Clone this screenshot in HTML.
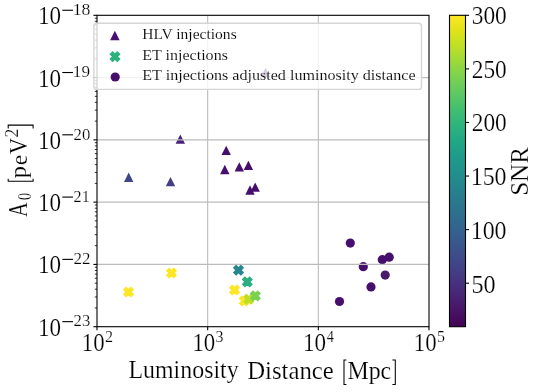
<!DOCTYPE html><html><head><meta charset="utf-8"><style>html,body{margin:0;padding:0;background:#fff;width:540px;height:392px;overflow:hidden}svg{display:block;will-change:transform}text{font-family:"Liberation Serif",serif;fill:#000;stroke:#fff;stroke-width:0.2px}#leg0,#leg1,#leg2{stroke-width:0.12px}</style></head><body><svg width="540" height="392" viewBox="0 0 540 392"><defs><linearGradient id="vir" x1="0" y1="1" x2="0" y2="0"><stop offset="0.000" stop-color="#440154"/><stop offset="0.050" stop-color="#471365"/><stop offset="0.100" stop-color="#482475"/><stop offset="0.150" stop-color="#463480"/><stop offset="0.200" stop-color="#414487"/><stop offset="0.250" stop-color="#3b528b"/><stop offset="0.300" stop-color="#355f8d"/><stop offset="0.350" stop-color="#2f6c8e"/><stop offset="0.400" stop-color="#2a788e"/><stop offset="0.450" stop-color="#25848e"/><stop offset="0.500" stop-color="#21918c"/><stop offset="0.550" stop-color="#1e9c89"/><stop offset="0.600" stop-color="#22a884"/><stop offset="0.650" stop-color="#2fb47c"/><stop offset="0.700" stop-color="#44bf70"/><stop offset="0.750" stop-color="#5ec962"/><stop offset="0.800" stop-color="#7ad151"/><stop offset="0.850" stop-color="#9bd93c"/><stop offset="0.900" stop-color="#bddf26"/><stop offset="0.950" stop-color="#dfe318"/><stop offset="1.000" stop-color="#fde725"/></linearGradient></defs><path d="M128.70,172.60L133.40,181.90L124.00,181.90Z" fill="#3f4788"/><path d="M170.50,176.95L175.20,186.25L165.80,186.25Z" fill="#433e85"/><path d="M180.30,134.55L185.00,143.85L175.60,143.85Z" fill="#48227a"/><path d="M226.20,145.75L230.90,155.05L221.50,155.05Z" fill="#470f6d"/><path d="M224.80,164.85L229.50,174.15L220.10,174.15Z" fill="#470f6d"/><path d="M239.30,162.15L244.00,171.45L234.60,171.45Z" fill="#470f6d"/><path d="M248.40,160.75L253.10,170.05L243.70,170.05Z" fill="#470f6d"/><path d="M250.00,185.35L254.70,194.65L245.30,194.65Z" fill="#470f6d"/><path d="M255.20,182.55L259.90,191.85L250.50,191.85Z" fill="#470f6d"/><path d="M265.50,67.75L270.20,77.05L260.80,77.05Z" fill="#470f6d"/><path d="M130.85,287.30L133.20,289.65L130.85,292.00L133.20,294.35L130.85,296.70L128.50,294.35L126.15,296.70L123.80,294.35L126.15,292.00L123.80,289.65L126.15,287.30L128.50,289.65Z" fill="#fde725" stroke="#fde725" stroke-width="1.3" stroke-linejoin="miter"/><path d="M173.85,268.30L176.20,270.65L173.85,273.00L176.20,275.35L173.85,277.70L171.50,275.35L169.15,277.70L166.80,275.35L169.15,273.00L166.80,270.65L169.15,268.30L171.50,270.65Z" fill="#fde725" stroke="#fde725" stroke-width="1.3" stroke-linejoin="miter"/><path d="M240.85,265.50L243.20,267.85L240.85,270.20L243.20,272.55L240.85,274.90L238.50,272.55L236.15,274.90L233.80,272.55L236.15,270.20L233.80,267.85L236.15,265.50L238.50,267.85Z" fill="#25878e" stroke="#25878e" stroke-width="1.3" stroke-linejoin="miter"/><path d="M249.65,277.20L252.00,279.55L249.65,281.90L252.00,284.25L249.65,286.60L247.30,284.25L244.95,286.60L242.60,284.25L244.95,281.90L242.60,279.55L244.95,277.20L247.30,279.55Z" fill="#2bae80" stroke="#2bae80" stroke-width="1.3" stroke-linejoin="miter"/><path d="M236.85,285.30L239.20,287.65L236.85,290.00L239.20,292.35L236.85,294.70L234.50,292.35L232.15,294.70L229.80,292.35L232.15,290.00L229.80,287.65L232.15,285.30L234.50,287.65Z" fill="#fde725" stroke="#fde725" stroke-width="1.3" stroke-linejoin="miter"/><path d="M246.55,296.20L248.90,298.55L246.55,300.90L248.90,303.25L246.55,305.60L244.20,303.25L241.85,305.60L239.50,303.25L241.85,300.90L239.50,298.55L241.85,296.20L244.20,298.55Z" fill="#fde725" stroke="#fde725" stroke-width="1.3" stroke-linejoin="miter"/><path d="M251.05,294.50L253.40,296.85L251.05,299.20L253.40,301.55L251.05,303.90L248.70,301.55L246.35,303.90L244.00,301.55L246.35,299.20L244.00,296.85L246.35,294.50L248.70,296.85Z" fill="#bddf26" stroke="#bddf26" stroke-width="1.3" stroke-linejoin="miter"/><path d="M257.75,291.20L260.10,293.55L257.75,295.90L260.10,298.25L257.75,300.60L255.40,298.25L253.05,300.60L250.70,298.25L253.05,295.90L250.70,293.55L253.05,291.20L255.40,293.55Z" fill="#7ad151" stroke="#7ad151" stroke-width="1.3" stroke-linejoin="miter"/><circle cx="350.30" cy="243.10" r="4.6" fill="#470f6d"/><circle cx="363.30" cy="266.70" r="4.6" fill="#470f6d"/><circle cx="389.20" cy="257.20" r="4.6" fill="#470f6d"/><circle cx="382.30" cy="259.70" r="4.6" fill="#470f6d"/><circle cx="385.20" cy="275.10" r="4.6" fill="#481b6d"/><circle cx="371.00" cy="286.90" r="4.6" fill="#470f6d"/><circle cx="339.50" cy="301.50" r="4.6" fill="#470f6d"/><line x1="207.67" y1="15.3" x2="207.67" y2="326.7" stroke="#bcbcbc" stroke-width="1.1"/><line x1="318.33" y1="15.3" x2="318.33" y2="326.7" stroke="#bcbcbc" stroke-width="1.1"/><line x1="97.0" y1="77.58" x2="429.0" y2="77.58" stroke="#bcbcbc" stroke-width="1.1"/><line x1="97.0" y1="139.86" x2="429.0" y2="139.86" stroke="#bcbcbc" stroke-width="1.1"/><line x1="97.0" y1="202.14" x2="429.0" y2="202.14" stroke="#bcbcbc" stroke-width="1.1"/><line x1="97.0" y1="264.42" x2="429.0" y2="264.42" stroke="#bcbcbc" stroke-width="1.1"/><rect x="97.0" y="15.3" width="332.0" height="311.4" fill="none" stroke="#000" stroke-width="1.1"/><line x1="97.00" y1="326.7" x2="97.00" y2="330.3" stroke="#000" stroke-width="1.1"/><line x1="207.67" y1="326.7" x2="207.67" y2="330.3" stroke="#000" stroke-width="1.1"/><line x1="318.33" y1="326.7" x2="318.33" y2="330.3" stroke="#000" stroke-width="1.1"/><line x1="429.00" y1="326.7" x2="429.00" y2="330.3" stroke="#000" stroke-width="1.1"/><line x1="93.4" y1="326.70" x2="97.0" y2="326.70" stroke="#000" stroke-width="1.1"/><line x1="94.8" y1="307.95" x2="97.0" y2="307.95" stroke="#000" stroke-width="0.8"/><line x1="94.8" y1="296.98" x2="97.0" y2="296.98" stroke="#000" stroke-width="0.8"/><line x1="94.8" y1="289.20" x2="97.0" y2="289.20" stroke="#000" stroke-width="0.8"/><line x1="94.8" y1="283.17" x2="97.0" y2="283.17" stroke="#000" stroke-width="0.8"/><line x1="94.8" y1="278.24" x2="97.0" y2="278.24" stroke="#000" stroke-width="0.8"/><line x1="94.8" y1="274.07" x2="97.0" y2="274.07" stroke="#000" stroke-width="0.8"/><line x1="94.8" y1="270.46" x2="97.0" y2="270.46" stroke="#000" stroke-width="0.8"/><line x1="94.8" y1="267.27" x2="97.0" y2="267.27" stroke="#000" stroke-width="0.8"/><line x1="93.4" y1="264.42" x2="97.0" y2="264.42" stroke="#000" stroke-width="1.1"/><line x1="94.8" y1="245.67" x2="97.0" y2="245.67" stroke="#000" stroke-width="0.8"/><line x1="94.8" y1="234.70" x2="97.0" y2="234.70" stroke="#000" stroke-width="0.8"/><line x1="94.8" y1="226.92" x2="97.0" y2="226.92" stroke="#000" stroke-width="0.8"/><line x1="94.8" y1="220.89" x2="97.0" y2="220.89" stroke="#000" stroke-width="0.8"/><line x1="94.8" y1="215.96" x2="97.0" y2="215.96" stroke="#000" stroke-width="0.8"/><line x1="94.8" y1="211.79" x2="97.0" y2="211.79" stroke="#000" stroke-width="0.8"/><line x1="94.8" y1="208.18" x2="97.0" y2="208.18" stroke="#000" stroke-width="0.8"/><line x1="94.8" y1="204.99" x2="97.0" y2="204.99" stroke="#000" stroke-width="0.8"/><line x1="93.4" y1="202.14" x2="97.0" y2="202.14" stroke="#000" stroke-width="1.1"/><line x1="94.8" y1="183.39" x2="97.0" y2="183.39" stroke="#000" stroke-width="0.8"/><line x1="94.8" y1="172.42" x2="97.0" y2="172.42" stroke="#000" stroke-width="0.8"/><line x1="94.8" y1="164.64" x2="97.0" y2="164.64" stroke="#000" stroke-width="0.8"/><line x1="94.8" y1="158.61" x2="97.0" y2="158.61" stroke="#000" stroke-width="0.8"/><line x1="94.8" y1="153.68" x2="97.0" y2="153.68" stroke="#000" stroke-width="0.8"/><line x1="94.8" y1="149.51" x2="97.0" y2="149.51" stroke="#000" stroke-width="0.8"/><line x1="94.8" y1="145.90" x2="97.0" y2="145.90" stroke="#000" stroke-width="0.8"/><line x1="94.8" y1="142.71" x2="97.0" y2="142.71" stroke="#000" stroke-width="0.8"/><line x1="93.4" y1="139.86" x2="97.0" y2="139.86" stroke="#000" stroke-width="1.1"/><line x1="94.8" y1="121.11" x2="97.0" y2="121.11" stroke="#000" stroke-width="0.8"/><line x1="94.8" y1="110.14" x2="97.0" y2="110.14" stroke="#000" stroke-width="0.8"/><line x1="94.8" y1="102.36" x2="97.0" y2="102.36" stroke="#000" stroke-width="0.8"/><line x1="94.8" y1="96.33" x2="97.0" y2="96.33" stroke="#000" stroke-width="0.8"/><line x1="94.8" y1="91.40" x2="97.0" y2="91.40" stroke="#000" stroke-width="0.8"/><line x1="94.8" y1="87.23" x2="97.0" y2="87.23" stroke="#000" stroke-width="0.8"/><line x1="94.8" y1="83.62" x2="97.0" y2="83.62" stroke="#000" stroke-width="0.8"/><line x1="94.8" y1="80.43" x2="97.0" y2="80.43" stroke="#000" stroke-width="0.8"/><line x1="93.4" y1="77.58" x2="97.0" y2="77.58" stroke="#000" stroke-width="1.1"/><line x1="94.8" y1="58.83" x2="97.0" y2="58.83" stroke="#000" stroke-width="0.8"/><line x1="94.8" y1="47.86" x2="97.0" y2="47.86" stroke="#000" stroke-width="0.8"/><line x1="94.8" y1="40.08" x2="97.0" y2="40.08" stroke="#000" stroke-width="0.8"/><line x1="94.8" y1="34.05" x2="97.0" y2="34.05" stroke="#000" stroke-width="0.8"/><line x1="94.8" y1="29.12" x2="97.0" y2="29.12" stroke="#000" stroke-width="0.8"/><line x1="94.8" y1="24.95" x2="97.0" y2="24.95" stroke="#000" stroke-width="0.8"/><line x1="94.8" y1="21.34" x2="97.0" y2="21.34" stroke="#000" stroke-width="0.8"/><line x1="94.8" y1="18.15" x2="97.0" y2="18.15" stroke="#000" stroke-width="0.8"/><line x1="93.4" y1="15.30" x2="97.0" y2="15.30" stroke="#000" stroke-width="1.1"/><rect x="93.9" y="23.2" width="327.6" height="66.2" rx="3" ry="3" fill="#fff" fill-opacity="0.8" stroke="#d5d5d5" stroke-width="1.4"/><path d="M114.90,30.85L119.65,40.15L110.15,40.15Z" fill="#470f6d"/><path d="M117.35,51.90L119.70,54.25L117.35,56.60L119.70,58.95L117.35,61.30L115.00,58.95L112.65,61.30L110.30,58.95L112.65,56.60L110.30,54.25L112.65,51.90L115.00,54.25Z" fill="#2db27d" stroke="#2db27d" stroke-width="1.3" stroke-linejoin="miter"/><circle cx="115.20" cy="77.00" r="4.6" fill="#470f6d"/><rect x="62.3" y="321.10" width="10.7" height="1.1" fill="#000"/><rect x="62.3" y="258.82" width="10.7" height="1.1" fill="#000"/><rect x="62.3" y="196.54" width="10.7" height="1.1" fill="#000"/><rect x="62.3" y="134.26" width="10.7" height="1.1" fill="#000"/><rect x="62.3" y="71.98" width="10.7" height="1.1" fill="#000"/><rect x="62.3" y="9.70" width="10.7" height="1.1" fill="#000"/><rect x="449.5" y="15.3" width="16.0" height="311.4" fill="url(#vir)" stroke="#000" stroke-width="1.1"/><line x1="465.5" y1="283.20" x2="469.1" y2="283.20" stroke="#000" stroke-width="1.1"/><line x1="465.5" y1="229.62" x2="469.1" y2="229.62" stroke="#000" stroke-width="1.1"/><line x1="465.5" y1="176.04" x2="469.1" y2="176.04" stroke="#000" stroke-width="1.1"/><line x1="465.5" y1="122.46" x2="469.1" y2="122.46" stroke="#000" stroke-width="1.1"/><line x1="465.5" y1="68.88" x2="469.1" y2="68.88" stroke="#000" stroke-width="1.1"/><line x1="465.5" y1="15.30" x2="469.1" y2="15.30" stroke="#000" stroke-width="1.1"/><path d="M346.4,359.9H344.0V384.4H346.4" stroke="#000" stroke-width="1.05" fill="none" stroke-linejoin="miter"/><path d="M392.4,359.9H395.3V384.4H392.4" stroke="#000" stroke-width="1.05" fill="none" stroke-linejoin="miter"/><path d="M8.2,178.7V181.3H33.1V178.7" stroke="#000" stroke-width="1.05" fill="none" stroke-linejoin="miter"/><path d="M8.2,128.6V125.1H33.1V128.6" stroke="#000" stroke-width="1.05" fill="none" stroke-linejoin="miter"/><text id="leg0" transform="matrix(1.07247,0.00000,0.00000,1.00000,142.197,38.600)" font-size="14.5">HLV injections</text><text id="leg1" transform="matrix(1.10670,0.00000,0.00000,1.00000,142.236,59.700)" font-size="14.5">ET injections</text><text id="leg2" transform="matrix(1.11065,0.00000,0.00000,1.00000,142.289,80.400)" font-size="14.5">ET injections adjusted luminosity distance</text><text id="y10_23" transform="matrix(0.94192,0.00000,0.00000,1.03002,37.949,335.621)" font-size="24.5">10</text><text id="ysup_23" transform="matrix(0.98234,0.00000,0.00000,0.99242,73.622,326.446)" font-size="17.0">23</text><text id="y10_22" transform="matrix(0.94192,0.00000,0.00000,1.03002,37.949,273.429)" font-size="24.5">10</text><text id="ysup_22" transform="matrix(0.99899,0.00000,0.00000,1.01447,73.596,264.490)" font-size="17.0">22</text><text id="y10_21" transform="matrix(0.94192,0.00000,0.00000,1.03002,37.949,211.232)" font-size="24.5">10</text><text id="ysup_21" transform="matrix(0.95050,0.00000,0.00000,1.01447,73.558,202.286)" font-size="17.0">21</text><text id="y10_20" transform="matrix(0.94192,0.00000,0.00000,1.03002,37.949,148.787)" font-size="24.5">10</text><text id="ysup_20" transform="matrix(0.98234,0.00000,0.00000,0.99242,73.622,139.597)" font-size="17.0">20</text><text id="y10_19" transform="matrix(0.94192,0.00000,0.00000,1.03002,37.949,86.588)" font-size="24.5">10</text><text id="ysup_19" transform="matrix(1.01105,0.00000,0.00000,0.99242,72.842,77.313)" font-size="17.0">19</text><text id="y10_18" transform="matrix(0.94192,0.00000,0.00000,1.03002,37.949,24.378)" font-size="24.5">10</text><text id="ysup_18" transform="matrix(1.04315,0.00000,0.00000,0.99242,72.754,15.145)" font-size="17.0">18</text><text id="x10_2" transform="matrix(0.93116,0.00000,0.00000,1.04739,81.732,351.184)" font-size="24.5">10</text><text id="xsup_2" transform="matrix(0.94896,0.00000,0.00000,1.01374,105.018,342.194)" font-size="17.0">2</text><text id="x10_3" transform="matrix(0.93101,0.00000,0.00000,1.04739,192.434,351.184)" font-size="24.5">10</text><text id="xsup_3" transform="matrix(0.94113,0.00000,0.00000,0.99070,215.607,341.939)" font-size="17.0">3</text><text id="x10_4" transform="matrix(0.94083,0.00000,0.00000,1.04739,302.969,351.184)" font-size="24.5">10</text><text id="xsup_4" transform="matrix(0.84270,0.00000,0.00000,1.01374,326.699,342.194)" font-size="17.0">4</text><text id="x10_5" transform="matrix(0.93116,0.00000,0.00000,1.04739,413.732,351.184)" font-size="24.5">10</text><text id="xsup_5" transform="matrix(0.93812,0.00000,0.00000,0.99121,436.875,341.940)" font-size="17.0">5</text><text id="cb_50" transform="matrix(0.98733,0.00000,0.00000,1.03028,471.424,292.629)" font-size="24.5">50</text><text id="cb_100" transform="matrix(0.97720,0.00000,0.00000,1.04739,470.690,238.717)" font-size="24.5">100</text><text id="cb_150" transform="matrix(0.97720,0.00000,0.00000,1.04739,470.690,185.023)" font-size="24.5">150</text><text id="cb_200" transform="matrix(0.95313,0.00000,0.00000,1.04739,471.759,131.338)" font-size="24.5">200</text><text id="cb_250" transform="matrix(0.95313,0.00000,0.00000,1.04739,471.759,77.921)" font-size="24.5">250</text><text id="cb_300" transform="matrix(0.95313,0.00000,0.00000,1.04739,471.759,24.409)" font-size="24.5">300</text><text id="xl_L" transform="matrix(0.91934,0.00000,0.00000,0.93852,128.493,378.279)" font-size="26">Luminosity</text><text id="xl_D" transform="matrix(0.95258,0.00000,0.00000,0.97311,247.180,379.180)" font-size="26">Distance</text><text id="xl_M" transform="matrix(0.91856,0.00000,0.00000,0.96757,347.421,378.663)" font-size="26">Mpc</text><text id="yl_A" transform="matrix(0.00000,-0.78619,1.01074,0.00000,26.811,216.902)" font-size="26">A</text><text id="yl_0" transform="matrix(0.00000,-0.79365,1.02348,0.00000,31.298,200.112)" font-size="18">0</text><text id="yl_p" transform="matrix(0.00000,-0.93766,0.85872,0.00000,26.452,178.217)" font-size="26">p</text><text id="yl_e" transform="matrix(0.00000,-0.92178,0.92736,0.00000,27.257,165.135)" font-size="26">e</text><text id="yl_V" transform="matrix(0.00000,-0.87101,0.99233,0.00000,26.563,154.202)" font-size="26">V</text><text id="yl_2" transform="matrix(0.00000,-0.96816,0.99017,0.00000,18.023,137.474)" font-size="18">2</text><text id="snr" transform="matrix(0.00000,-0.96385,0.98551,0.00000,527.803,195.839)" font-size="26">SNR</text></svg></body></html>
